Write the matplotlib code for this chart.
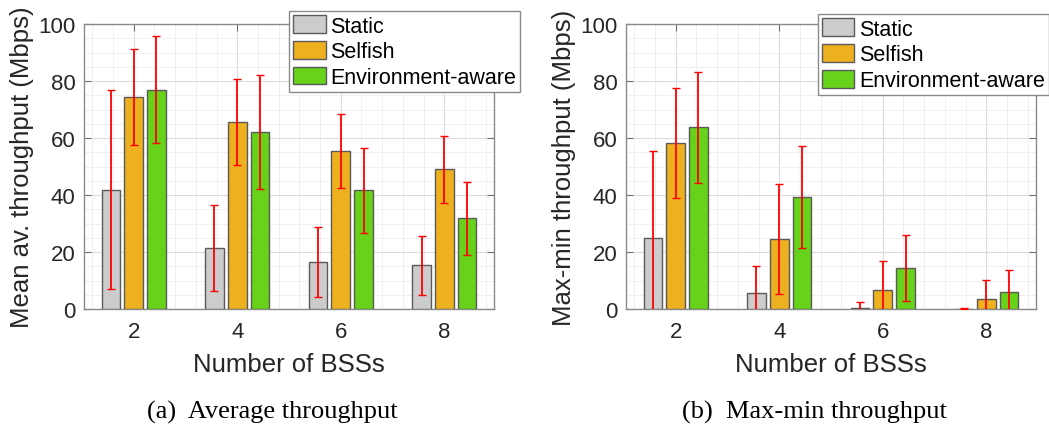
import numpy as np
import matplotlib
matplotlib.use("Agg")
from matplotlib import pyplot as plt
from matplotlib.ticker import MultipleLocator

bss = [2, 4, 6, 8]
labels = ["Static", "Selfish", "Environment-aware"]

# (a) mean av. throughput, mean and std per scheme
avg_static = [41.9, 21.4, 16.4, 15.3]
avg_selfish = [74.3, 65.5, 55.3, 49.0]
avg_env = [77.0, 62.1, 41.6, 31.8]
avg_static_err = [35.0, 15.1, 12.2, 10.3]
avg_selfish_err = [16.8, 15.1, 13.0, 11.8]
avg_env_err = [18.8, 20.1, 15.0, 12.7]

# (b) max-min throughput
mm_static = [24.9, 5.5, 0.5, 0.1]
mm_selfish = [58.3, 24.6, 6.6, 3.4]
mm_env = [63.8, 39.3, 14.4, 5.9]
mm_static_err = [30.4, 9.7, 2.1, 0.2]
mm_selfish_err = [19.4, 19.4, 10.3, 6.9]
mm_env_err = [19.5, 17.9, 11.5, 7.9]

colores = ["#CCCCCC", "#EDB120", "#66D219"]
sans = "Liberation Sans"

def grafico(ax, medias, erros, ylabel, caption, leg_anchor):
  x = np.array(bss, dtype=float)
  desloc = [-0.44, 0, 0.44]
  for serie, err, d, c, lab in zip(medias, erros, desloc, colores, labels):
    ax.bar(x + d, serie, 0.36, color=c, edgecolor="#5a5a5a", linewidth=1.0,
           label=lab, zorder=3)
  for serie, err, d in zip(medias, erros, desloc):
    ax.errorbar(x + d, serie, yerr=err, fmt="none", ecolor="red",
                elinewidth=1.3, capsize=3, capthick=1.0, zorder=4)
  ax.set_xlim(1.04, 8.96)
  ax.set_ylim(0, 100)
  ax.set_xticks(bss)
  ax.set_yticks(range(0, 101, 20))
  ax.xaxis.set_minor_locator(MultipleLocator(0.4))
  ax.yaxis.set_minor_locator(MultipleLocator(5))
  ax.grid(which="major", color="#dcdcdc", linewidth=0.8, zorder=0)
  ax.grid(which="minor", color="#eeeeee", linewidth=0.6, zorder=0)
  ax.set_axisbelow(True)
  ax.tick_params(which="major", direction="in", length=5, top=True, right=True,
                 color="#707070", labelsize=16)
  ax.tick_params(axis="x", which="major", pad=9)
  ax.tick_params(axis="y", which="major", pad=6)
  ax.tick_params(which="minor", length=0)
  for s in ax.spines.values():
    s.set_color("#8a8a8a")
    s.set_linewidth(1.0)
  for t in ax.get_xticklabels() + ax.get_yticklabels():
    t.set_fontfamily(sans)
    t.set_color("#262626")
  ax.set_xlabel("Number of BSSs", fontsize=18.5, fontfamily=sans, color="#262626",
                labelpad=7)
  ax.set_ylabel(ylabel, fontsize=18.5, fontfamily=sans, color="#262626", labelpad=3)
  leg = ax.legend(loc="upper left", bbox_to_anchor=leg_anchor,
                  prop={"family": sans, "size": 15.5}, frameon=True, fancybox=False,
                  edgecolor="#8a8a8a", framealpha=1, borderpad=0.2,
                  labelspacing=0.2, handlelength=1.5, handleheight=0.9,
                  handletextpad=0.2, borderaxespad=0)
  leg.get_frame().set_linewidth(1.0)
  leg.set_zorder(10)
  ax.text(0.46, -0.36, caption, transform=ax.transAxes, ha="center", va="center",
          fontsize=19, fontfamily="Liberation Serif")

fig = plt.figure(figsize=(10.49, 4.27), dpi=100)
ax1 = fig.add_axes([84 / 1049, 117 / 427, 410 / 1049, 285 / 427])
ax2 = fig.add_axes([626 / 1049, 117 / 427, 410 / 1049, 285 / 427])

grafico(ax1, [avg_static, avg_selfish, avg_env],
        [avg_static_err, avg_selfish_err, avg_env_err],
        "Mean av. throughput (Mbps)", "(a)  Average throughput", (0.5, 1.046))
grafico(ax2, [mm_static, mm_selfish, mm_env],
        [mm_static_err, mm_selfish_err, mm_env_err],
        "Max-min throughput (Mbps)", "(b)  Max-min throughput", (0.468, 1.035))

fig.savefig("out.png", dpi=100)
